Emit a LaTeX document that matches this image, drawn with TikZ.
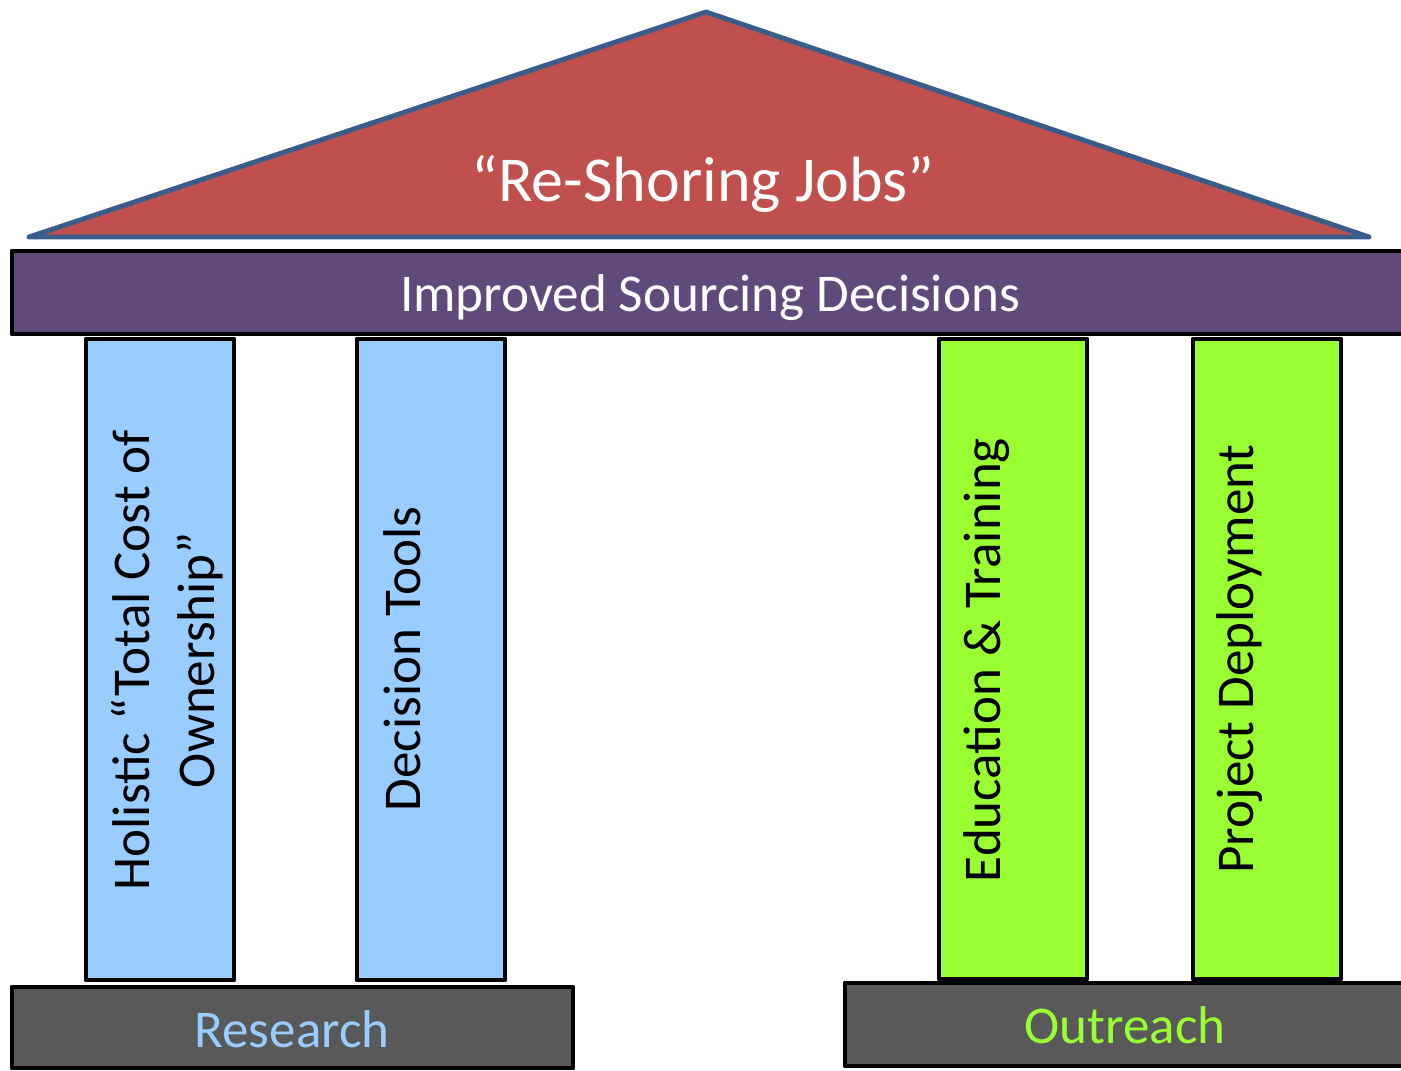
\documentclass[tikz,border=0pt]{standalone}
\usepackage{fontspec}
\setmainfont{Carlito}
\definecolor{roofred}{HTML}{C0504D}
\definecolor{roofblue}{HTML}{385D8A}
\definecolor{beampurple}{HTML}{604A7B}
\definecolor{collight}{HTML}{99CCFF}
\definecolor{colgreen}{HTML}{99FF33}
\definecolor{basegrey}{HTML}{595959}
\tikzset{
  blk/.style={draw=black, line width=1.4pt, line join=round},
  roof/.style={fill=roofred, draw=roofblue, line width=1.4pt, line join=round},
  coltext/.style={rotate=90, anchor=base, inner sep=0pt, font=\fontsize{15.1}{18.4}\selectfont, text=black},
}
\begin{document}
\begin{tikzpicture}[x=0.01cm, y=-0.01cm]
\useasboundingbox (0,0) rectangle (1401,1070);
% roof
\draw[roof] (706,12) -- (1369,237) -- (29,237) -- cycle;
\node[text=white, anchor=base, inner sep=0pt, font=\fontsize{18.2}{22}\selectfont] (roofT) at (703,202) {“Re-Shoring Jobs”};
% beam
\draw[blk, fill=beampurple] (12,251) rectangle (1415,334);
\node[text=white, anchor=base, inner sep=0pt, font=\fontsize{15.1}{18.4}\selectfont] (beamT) at (710,311) {Improved Sourcing Decisions};
% columns
\draw[blk, fill=collight] (86,339) rectangle (234,980);
\draw[blk, fill=collight] (357,339) rectangle (505,980);
\draw[blk, fill=colgreen] (939,339) rectangle (1087,979);
\draw[blk, fill=colgreen] (1193,339) rectangle (1341,979);
\node[rotate=90, anchor=center, inner sep=0pt, align=center, font=\fontsize{15.1}{18.4}\selectfont] (c1T) at (167,660) {Holistic “Total Cost of\\Ownership”};
\node[coltext] (c2T) at (420,659) {Decision Tools};
\node[coltext] (c3T) at (1000,660) {Education \& Training};
\node[coltext] (c4T) at (1253,659) {Project Deployment};
% bases
\draw[blk, fill=basegrey] (12,987) rectangle (573,1068);
\draw[blk, fill=basegrey] (845,983) rectangle (1415,1066);
\node[text=collight, anchor=base, inner sep=0pt, font=\fontsize{15.1}{18.4}\selectfont] (resT) at (292,1047) {Research};
\node[text=colgreen, anchor=base, inner sep=0pt, font=\fontsize{15.1}{18.4}\selectfont] (outT) at (1125,1043) {Outreach};
\end{tikzpicture}
\end{document}
